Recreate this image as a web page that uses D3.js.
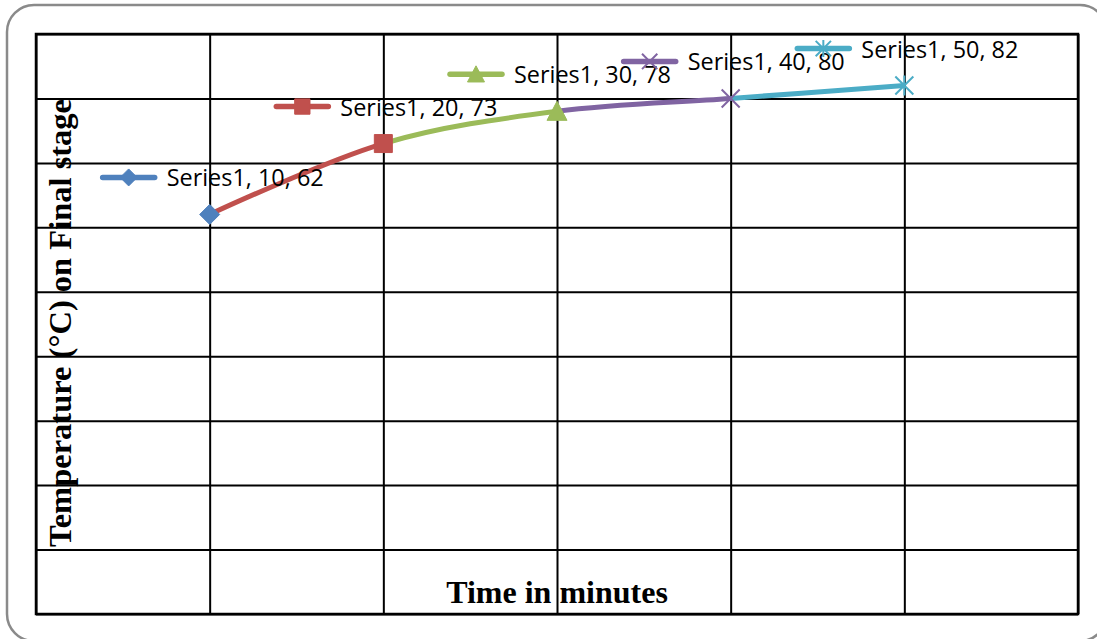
<!DOCTYPE html>
<html>
<head>
<meta charset="utf-8">
<script src="https://cdn.jsdelivr.net/npm/d3@7"></script>
<style>
  html, body { margin: 0; padding: 0; background: #fff; }
  svg { display: block; }
</style>
</head>
<body>
<svg id="chart" width="1097" height="639"></svg>
<script>
// ---- data ----
const seriesName = "Series1";
const times = [10, 20, 30, 40, 50];          // minutes
const temps = [62, 73, 78, 80, 82];          // °C
const xTicks = [0, 10, 20, 30, 40, 50, 60];
const yTicks = [0, 10, 20, 30, 40, 50, 60, 70, 80, 90];
const xTitle = "Time in minutes";
const yTitle = "Temperature (°C) on Final stage";

// ---- styling ----
const pointColors = ["#4F81BD", "#C0504D", "#9BBB59", "#8064A2", "#4BACC6"];
const pointShapes = ["diamond", "square", "triangle", "x", "star"];

const svg = d3.select("#chart");
const W = 1097, H = 639;
const plot = { left: 36, right: 1078, top: 34, bottom: 614 };

// outer chart frame (rounded)
svg.append("rect")
  .attr("x", 7).attr("y", 5)
  .attr("width", 1100).attr("height", 636)
  .attr("rx", 27).attr("ry", 27)
  .attr("fill", "#fff")
  .attr("stroke", "#8a8a8a")
  .attr("stroke-width", 2.5);

const x = d3.scaleLinear().domain([0, 60]).range([plot.left, plot.right]);
const y = d3.scaleLinear().domain([0, 90]).range([plot.bottom, plot.top]);

// gridlines via axes
const gx = svg.append("g")
  .attr("transform", `translate(0,${plot.bottom})`)
  .call(d3.axisBottom(x).tickValues(xTicks).tickSize(-(plot.bottom - plot.top)).tickFormat(""));
const gy = svg.append("g")
  .attr("transform", `translate(${plot.left},0)`)
  .call(d3.axisLeft(y).tickValues(yTicks).tickSize(-(plot.right - plot.left)).tickFormat(""));
[gx, gy].forEach(g => {
  g.select(".domain").remove();
  g.selectAll(".tick line").attr("stroke", "#000").attr("stroke-width", 2);
});

// plot area border
svg.append("rect")
  .attr("x", plot.left).attr("y", plot.top)
  .attr("width", plot.right - plot.left).attr("height", plot.bottom - plot.top)
  .attr("fill", "none").attr("stroke", "#000").attr("stroke-width", 2.5);

// axis titles
svg.append("text")
  .attr("x", (plot.left + plot.right) / 2)
  .attr("y", 603)
  .attr("text-anchor", "middle")
  .attr("font-family", "'Liberation Serif', 'Times New Roman', serif")
  .attr("font-weight", "bold")
  .attr("font-size", 32)
  .attr("fill", "#000")
  .text(xTitle);

svg.append("text")
  .attr("transform", `translate(71,${(plot.top + plot.bottom) / 2 - 1}) rotate(-90)`)
  .attr("text-anchor", "middle")
  .attr("font-family", "'Liberation Serif', 'Times New Roman', serif")
  .attr("font-weight", "bold")
  .attr("font-size", 32.5)
  .attr("fill", "#000")
  .text(yTitle);

// marker shapes, r = half extent
function markerPath(kind, r) {
  const p = d3.path();
  if (kind === "diamond") {
    p.moveTo(0, -r); p.lineTo(r, 0); p.lineTo(0, r); p.lineTo(-r, 0); p.closePath();
  } else if (kind === "square") {
    const s = r * 0.9;
    p.rect(-s, -s, 2 * s, 2 * s);
  } else if (kind === "triangle") {
    p.moveTo(0, -r); p.lineTo(r, r * 0.9); p.lineTo(-r, r * 0.9); p.closePath();
  } else if (kind === "x") {
    const s = r * 0.9;
    p.moveTo(-s, -s); p.lineTo(s, s); p.moveTo(-s, s); p.lineTo(s, -s);
  } else if (kind === "star") {
    const s = r * 0.9;
    p.moveTo(-s, -s); p.lineTo(s, s); p.moveTo(-s, s); p.lineTo(s, -s);
    p.moveTo(0, -r); p.lineTo(0, r);
  }
  return p.toString();
}
const isStroked = k => k === "x" || k === "star";

function drawMarker(g, kind, color, r) {
  g.append("path")
    .attr("d", markerPath(kind, r))
    .attr("fill", isStroked(kind) ? "none" : color)
    .attr("stroke", color)
    .attr("stroke-width", isStroked(kind) ? 2 : 1)
    .attr("stroke-linejoin", "miter");
}

const pts = times.map((t, i) => ({ t, v: temps[i], i }));

// smoothed line, each segment coloured by its end point
const line = d3.line()
  .x(d => x(d.t)).y(d => y(d.v))
  .curve(d3.curveCardinal.tension(0));
const defs = svg.append("defs");
for (let i = 0; i < pts.length - 1; i++) {
  const x0 = x(pts[i].t), x1 = x(pts[i + 1].t);
  defs.append("clipPath").attr("id", `seg${i}`)
    .append("rect").attr("x", x0).attr("y", 0).attr("width", x1 - x0).attr("height", H);
  svg.append("path")
    .datum(pts)
    .attr("d", line)
    .attr("fill", "none")
    .attr("stroke", pointColors[i + 1])
    .attr("stroke-width", 5)
    .attr("stroke-linecap", "round")
    .attr("clip-path", `url(#seg${i})`);
}

// data markers
pts.forEach(d => {
  const g = svg.append("g").attr("transform", `translate(${x(d.t)},${y(d.v)})`);
  drawMarker(g, pointShapes[d.i], pointColors[d.i], 10);
});

// data labels with legend key
pts.forEach(d => {
  const px = x(d.t), py = y(d.v);
  const kx = px - 81, ky = py - 37;
  const g = svg.append("g");
  g.append("line")
    .attr("x1", kx - 26).attr("x2", kx + 26)
    .attr("y1", ky).attr("y2", ky)
    .attr("stroke", pointColors[d.i])
    .attr("stroke-width", 5.5)
    .attr("stroke-linecap", "round");
  const mg = g.append("g").attr("transform", `translate(${kx},${ky})`);
  drawMarker(mg, pointShapes[d.i], pointColors[d.i], 8.5);
  g.append("text")
    .attr("x", px - 43)
    .attr("y", py - 28)
    .attr("font-family", "'Open Sans', 'Noto Sans', sans-serif")
    .attr("font-size", 23)
    .attr("fill", "#000")
    .attr("textLength", 157)
    .attr("lengthAdjust", "spacingAndGlyphs")
    .text(`${seriesName}, ${d.t}, ${d.v}`);
});
</script>
</body>
</html>
